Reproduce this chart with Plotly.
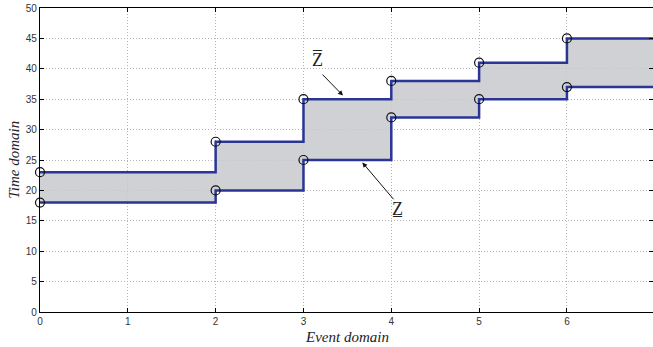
import plotly.graph_objects as go

event_x = [0, 2, 3, 4, 5, 6]
upper_z = [23, 28, 35, 38, 41, 45]
lower_z = [18, 20, 25, 32, 35, 37]
x_end = 7
x_ticks = [0, 1, 2, 3, 4, 5, 6]
y_ticks = list(range(0, 51, 5))

line_x = event_x + [x_end]
line_up = upper_z + [upper_z[-1]]
line_lo = lower_z + [lower_z[-1]]

blue = "#2a3596"
fig = go.Figure()
fig.add_trace(go.Scatter(x=line_x, y=line_lo, mode="lines", line=dict(color=blue, width=2.5, shape="hv"),
                         showlegend=False, hoverinfo="skip"))
fig.add_trace(go.Scatter(x=line_x, y=line_up, mode="lines", line=dict(color=blue, width=2.5, shape="hv"),
                         fill="tonexty", fillcolor="rgba(200,201,204,0.85)", showlegend=False, hoverinfo="skip"))
fig.add_trace(go.Scatter(x=event_x + event_x, y=upper_z + lower_z, mode="markers",
                         marker=dict(symbol="circle-open", size=9, color="#111111", line=dict(width=1.2)),
                         showlegend=False, cliponaxis=False, hoverinfo="skip"))

serif = "Liberation Serif"
fig.add_annotation(x=3.45, y=35.6, ax=3.2, ay=39.3, axref="x", ayref="y", xref="x", yref="y",
                   text="", showarrow=True, arrowhead=2, arrowsize=1, arrowwidth=1, arrowcolor="#111")
fig.add_annotation(x=3.155, y=41.4, xref="x", yref="y", text="Z\u0305", showarrow=False,
                   font=dict(family=serif, size=18, color="#222"))
fig.add_annotation(x=3.67, y=24.6, ax=4.04, ay=18.3, axref="x", ayref="y", xref="x", yref="y",
                   text="", showarrow=True, arrowhead=2, arrowsize=1, arrowwidth=1, arrowcolor="#111")
fig.add_annotation(x=4.07, y=16.9, xref="x", yref="y", text="Z\u0332", showarrow=False,
                   font=dict(family=serif, size=18, color="#222"))

# axis titles
fig.add_annotation(x=0.5, y=-0.05, xref="paper", yref="paper", yanchor="top", text="<i>Event domain</i>",
                   showarrow=False, font=dict(family=serif, size=15, color="#222"))
fig.add_annotation(x=-0.043, y=0.5, xref="paper", yref="paper", xanchor="center", textangle=-90,
                   text="<i>Time domain</i>", showarrow=False, font=dict(family=serif, size=15, color="#222"))

axis_common = dict(showline=True, linecolor="black", linewidth=1.2, mirror="ticks", ticks="inside", ticklen=4,
                   tickcolor="black", showgrid=True, gridcolor="#b5b5b5", griddash="1px,2px", gridwidth=1,
                   zeroline=False, automargin=False,
                   tickfont=dict(family="Liberation Sans", size=10, color="#333"))
fig.update_xaxes(range=[0, 6.98], tickvals=x_ticks, **axis_common)
fig.update_yaxes(range=[0, 50], tickvals=y_ticks, **axis_common)
fig.update_layout(width=653, height=347, margin=dict(l=40, r=0, t=8, b=35),
                  plot_bgcolor="white", paper_bgcolor="white")
fig.write_html("out.html", config={"displayModeBar": False},
               post_script="document.body.style.margin='0';document.body.style.overflow='hidden';")
